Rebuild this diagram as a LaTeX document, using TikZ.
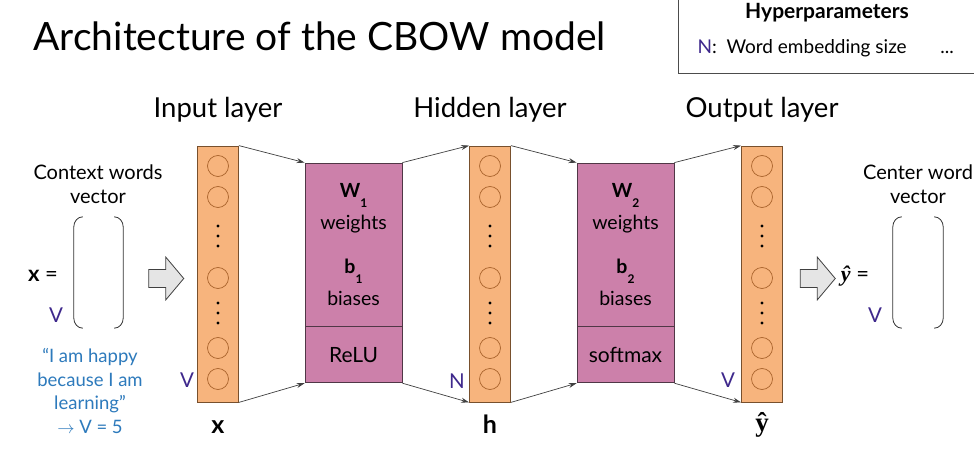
\documentclass[tikz,border=0pt]{standalone}
\usepackage{fontspec}
\setmainfont{Lato}
\newfontfamily\hatfont{Liberation Serif}
\usetikzlibrary{positioning,shapes.arrows,arrows.meta}

\definecolor{layerfill}{RGB}{247,180,125}
\definecolor{layerline}{RGB}{120,80,45}
\definecolor{neuronline}{RGB}{170,100,45}
\definecolor{boxfill}{RGB}{204,128,170}
\definecolor{boxline}{RGB}{80,55,70}
\definecolor{dimcol}{RGB}{62,40,140}
\definecolor{quotecol}{RGB}{45,122,188}

\newcommand{\lowidx}[1]{\raisebox{-10pt}[0pt][0pt]{\fontsize{12}{12}\selectfont\textbf{#1}}}

\tikzset{
  layer/.style={draw=layerline,fill=layerfill,line width=0.8pt,minimum width=41,minimum height=256,inner sep=0pt},
  neuron/.style={circle,draw=neuronline,line width=0.7pt,minimum size=21,inner sep=0pt},
  wbox/.style={draw=boxline,fill=boxfill,line width=0.8pt,minimum width=97,minimum height=163,inner sep=0pt,align=center,font=\fontsize{19.5}{32}\selectfont},
  actbox/.style={draw=boxline,fill=boxfill,line width=0.8pt,minimum width=97,minimum height=56,inner sep=0pt,font=\fontsize{21}{24}\selectfont},
  conn/.style={-{Stealth[length=8pt,width=5pt]},draw=black!75,line width=0.7pt},
  bigarrow/.style={single arrow,draw=black!75,fill=black!10,line width=0.8pt,minimum height=35,single arrow head extend=12.5,single arrow tip angle=100,inner xsep=0pt,inner ysep=8.5pt},
  title/.style={font=\fontsize{27.5}{30}\selectfont},
  side/.style={align=center,font=\fontsize{20}{24}\selectfont},
  dimlabel/.style={text=dimcol,font=\fontsize{20.5}{22}\selectfont},
  veclabel/.style={anchor=base,font=\fontsize{25}{26}\selectfont\bfseries},
  bracket/.style={draw=black!80,line width=0.8pt}
}

\begin{document}
\begin{tikzpicture}[x=1pt,y=-1pt]
  \useasboundingbox[fill=white] (0,0) rectangle (974,454);

  % heading and hyperparameters
  \node[anchor=base west,font=\fontsize{39}{44}\selectfont] (head) at (30,51) {Architecture of the CBOW model};
  \draw[draw=black!70,line width=0.8pt] (990,-10) -- (678,-10) -- (678,73) -- (990,73);
  \node[font=\fontsize{21}{22}\selectfont\bfseries] (hyper) at (827,13) {Hyperparameters};
  \node[anchor=base west,font=\fontsize{19}{22}\selectfont] (nsize) at (694,54) {\textcolor{dimcol}{N}:\ \ Word embedding size \hspace{24pt} ...};

  % layer titles
  \node[title] (tin) at (218,110) {Input layer};
  \node[title] (thid) at (490,110) {Hidden layer};
  \node[title] (tout) at (762,110) {Output layer};

  % the three columns of units
  \foreach \c/\x in {in/218,hid/490,out/762} {
    \node[layer] (\c) at (\x,274) {};
    \foreach \y/\n in {166/1,197/2,278/3,348/4,379/5}
      \node[neuron] (\c\n) at (\x,\y) {};
    \foreach \y in {226,236,246,303,313,323}
      \fill (\x,\y) circle (1.6);
  }

  % weight boxes
  \node[wbox] (w1) at (353.5,244.5) {\textbf{W}\lowidx{1}\\weights\\[12pt]\textbf{b}\lowidx{1}\\biases};
  \node[actbox,below=0pt of w1] (f1) {ReLU};
  \node[wbox] (w2) at (625.5,244.5) {\textbf{W}\lowidx{2}\\weights\\[12pt]\textbf{b}\lowidx{2}\\biases};
  \node[actbox,below=0pt of w2] (f2) {softmax};

  \draw[conn] (in.north east) -- (w1.north west);
  \draw[conn] (in.south east) -- (f1.south west);
  \draw[conn] (w1.north east) -- (hid.north west);
  \draw[conn] (f1.south east) -- (hid.south west);
  \draw[conn] (hid.north east) -- (w2.north west);
  \draw[conn] (hid.south east) -- (f2.south west);
  \draw[conn] (w2.north east) -- (out.north west);
  \draw[conn] (f2.south east) -- (out.south west);

  % sizes and vector names
  \node[dimlabel] (vin) at (187,380) {V};
  \node[dimlabel] (nhid) at (457,381) {N};
  \node[dimlabel] (vout) at (728,380) {V};
  \node[veclabel] (xname) at (218,433) {x};
  \node[veclabel] (hname) at (490,433) {h};
  \node[anchor=base,font=\fontsize{27}{28}\selectfont\hatfont\bfseries] (yname) at (762,431) {ŷ};

  % context words vector
  \node[side] (ctx) at (98,184) {Context words\\vector};
  \node[minimum width=49,minimum height=111,inner sep=0pt] (xvec) at (98.5,272.5) {};
  \draw[bracket] ([xshift=9]xvec.north west) to[out=180,in=90] ([yshift=-10]xvec.north west)
    -- ([yshift=10]xvec.south west) to[out=-90,in=180] ([xshift=9]xvec.south west);
  \draw[bracket] ([xshift=-9]xvec.north east) to[out=0,in=90] ([yshift=-10]xvec.north east)
    -- ([yshift=10]xvec.south east) to[out=-90,in=0] ([xshift=-9]xvec.south east);
  \node[anchor=base,font=\fontsize{22}{24}\selectfont] (xeq) at (43,282) {\textbf{x} =};
  \node[dimlabel] (vx) at (56,315) {V};
  \node[side,text=quotecol,font=\fontsize{18.5}{23.5}\selectfont] (quote) at (90,391) {“I am happy\\because I am\\learning”\\$\rightarrow$ V = 5};
  \node[bigarrow] (a1) at (162.5,278.5) {};

  % center word vector
  \node[side] (cw) at (918,184) {Center word\\vector};
  \node[minimum width=50,minimum height=111,inner sep=0pt] (yvec) at (918,272.5) {};
  \draw[bracket] ([xshift=9]yvec.north west) to[out=180,in=90] ([yshift=-10]yvec.north west)
    -- ([yshift=10]yvec.south west) to[out=-90,in=180] ([xshift=9]yvec.south west);
  \draw[bracket] ([xshift=-9]yvec.north east) to[out=0,in=90] ([yshift=-10]yvec.north east)
    -- ([yshift=10]yvec.south east) to[out=-90,in=0] ([xshift=-9]yvec.south east);
  \node[anchor=base,font=\fontsize{22}{24}\selectfont] (yeq) at (855,282) {{\hatfont\bfseries\itshape ŷ} =};
  \node[dimlabel] (vy) at (875,315) {V};
  \node[bigarrow] (a2) at (814,278.5) {};
\end{tikzpicture}
\end{document}
